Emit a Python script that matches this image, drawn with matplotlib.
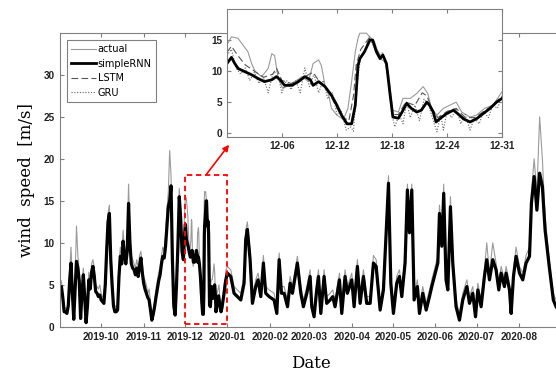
import numpy as np
import pandas as pd
import matplotlib
matplotlib.use('Agg')
import matplotlib.pyplot as plt
import matplotlib.dates as mdates

# ---- main series, Sep 2019 - Nov 2019, one value per day (day 0 = 2019-09-01)
rnn_sepnov = [4.3, 4.8, 3.5, 1.8, 1.8, 1.6, 2.5, 5.5, 7.6, 4.0,
              0.9, 4.5, 7.8, 7.0, 5.5, 1.0, 4.0, 6.2, 3.5, 0.5,
              2.5, 5.6, 4.5, 6.5, 7.2, 6.0, 4.2, 4.0, 3.6, 3.8,
              3.2, 3.0, 2.8, 5.0, 9.0, 12.5, 13.5, 8.0, 5.0, 2.5,
              1.8, 1.8, 2.0, 6.0, 8.4, 7.5, 10.2, 8.5, 7.5, 9.0,
              14.7, 10.0, 7.5, 7.0, 6.8, 6.2, 7.0, 6.0, 7.2, 8.2,
              6.5, 5.2, 4.5, 4.0, 3.5, 3.2, 2.0, 0.8, 1.5, 2.4,
              3.5, 4.5, 5.5, 6.2, 7.5, 8.4, 8.2, 9.6, 12.0, 14.3,
              15.0, 16.8, 8.0, 2.5, 1.4, 5.0, 9.6, 15.5, 13.0, 9.0,
              8.0]
actual_sepnov = [5.0, 5.5, 4.0, 2.4, 2.2, 2.0, 3.0, 6.5, 9.5, 5.0,
                 1.5, 6.0, 12.0, 8.5, 6.5, 2.0, 5.0, 7.0, 4.5, 1.0,
                 3.5, 6.5, 5.5, 7.5, 8.0, 7.0, 5.0, 4.8, 4.5, 5.0,
                 4.0, 3.6, 3.5, 6.0, 10.5, 13.5, 14.5, 9.5, 6.0, 3.0,
                 2.5, 2.4, 2.8, 7.5, 9.5, 8.5, 11.5, 9.5, 8.5, 10.0,
                 17.0, 11.0, 8.5, 8.0, 7.5, 7.0, 8.0, 7.0, 8.5, 9.0,
                 7.5, 6.0, 5.5, 5.0, 4.0, 4.5, 3.0, 1.2, 2.0, 3.0,
                 4.5, 5.5, 6.5, 7.0, 8.5, 9.5, 9.0, 11.0, 14.0, 16.0,
                 21.0, 18.0, 9.0, 3.5, 2.0, 6.0, 11.0, 16.5, 14.0, 10.5,
                 9.0]

# ---- main series, Jan 2020 - Aug 2020 (days since 2019-09-01)
day_janaug = [122.1, 124.6, 127.0, 129.4, 131.9, 134.3, 135.5, 136.7, 138.7, 140.4,
              142.8, 144.5, 146.5, 148.4, 150.1, 152.6, 156.2, 158.2, 159.9, 161.6,
              163.5, 166.0, 167.9, 169.6, 173.2, 175.7, 177.6, 180.1, 182.5, 183.7,
              185.4, 187.3, 188.6, 190.3, 192.7, 194.6, 197.1, 199.0, 200.7, 203.9,
              205.6, 208.0, 209.7, 212.9, 214.6, 217.0, 219.0, 221.4, 223.8, 226.3,
              228.7, 230.7, 233.6, 236.0, 238.0, 239.7, 241.4, 243.3, 245.7, 247.7,
              249.4, 251.8, 253.5, 255.0, 256.7, 258.4, 260.8, 262.3, 264.7, 267.2,
              269.6, 271.3, 273.2, 275.7, 276.9, 278.6, 280.0, 281.7, 283.0, 284.9,
              286.6, 289.0, 291.5, 293.9, 296.9, 298.8, 301.2, 303.2, 304.9, 307.3,
              309.7, 311.4, 313.4, 315.8, 318.2, 320.2, 321.9, 324.3, 325.5, 328.0,
              329.2, 330.9, 332.8, 335.3, 337.7, 340.1, 342.6, 344.0, 346.0, 348.0,
              350.0, 352.0, 354.0, 357.0, 360.0, 362.0, 366.0]
rnn_janaug = [6.4, 6.0, 4.0, 3.6, 3.2, 5.2, 10.4, 11.6, 8.0, 2.8,
              4.8, 5.6, 3.6, 7.6, 4.0, 3.6, 3.2, 1.6, 8.0, 4.0,
              4.0, 2.4, 5.2, 4.0, 7.6, 4.0, 2.4, 4.0, 6.0, 2.4,
              1.2, 4.4, 6.0, 1.6, 6.0, 2.8, 3.2, 3.6, 2.4, 5.6,
              1.6, 6.0, 4.0, 5.6, 2.4, 7.2, 2.8, 6.0, 2.8, 2.8,
              7.6, 7.2, 2.0, 4.4, 11.2, 17.1, 5.2, 1.6, 5.2, 6.0,
              3.6, 7.6, 16.3, 11.2, 16.3, 3.2, 4.8, 1.6, 4.0, 2.0,
              3.6, 4.8, 6.0, 7.6, 13.5, 9.6, 15.9, 5.6, 4.4, 14.3,
              7.6, 2.4, 0.8, 3.2, 4.8, 2.8, 4.0, 1.2, 4.4, 2.4,
              6.0, 8.0, 5.6, 8.0, 6.8, 4.4, 6.4, 4.8, 6.4, 4.4,
              1.6, 6.0, 8.4, 6.4, 5.6, 7.6, 8.4, 14.7, 17.9, 13.9,
              18.3, 16.7, 11.5, 7.2, 3.2, 2.4, 1.5]
actual_janaug = [7.2, 6.8, 4.8, 4.4, 4.0, 6.0, 11.5, 12.5, 9.0, 3.5,
                 5.6, 6.4, 4.4, 8.5, 4.8, 4.4, 4.0, 2.4, 8.8, 4.8,
                 4.8, 3.2, 6.0, 4.8, 8.4, 4.8, 3.2, 4.8, 6.8, 3.2,
                 2.0, 5.2, 6.8, 2.4, 6.8, 3.6, 4.0, 4.4, 3.2, 6.4,
                 2.4, 6.8, 4.8, 6.4, 3.2, 8.0, 3.6, 6.8, 3.6, 3.6,
                 8.5, 8.0, 2.8, 5.2, 12.0, 18.0, 6.0, 2.4, 6.0, 6.8,
                 4.4, 8.5, 17.0, 12.0, 17.0, 4.0, 5.6, 2.4, 4.8, 2.8,
                 4.4, 5.6, 6.8, 8.5, 14.5, 10.5, 17.0, 6.4, 5.2, 15.5,
                 8.5, 3.2, 1.6, 4.0, 5.6, 3.6, 4.8, 2.0, 5.2, 3.2,
                 6.8, 10.0, 6.4, 10.0, 7.6, 5.2, 7.2, 5.6, 7.2, 5.2,
                 2.4, 6.8, 9.5, 7.2, 6.4, 8.5, 9.5, 16.0, 20.0, 16.0,
                 25.0, 20.0, 13.0, 8.0, 4.0, 3.2, 2.2]

# ---- December 2019 detail (days since 2019-12-01)
rnn_day = [0.0, 0.5, 0.87, 1.24, 1.96, 2.7, 3.4, 4.1, 4.9, 5.4,
           5.8, 6.3, 7.1, 7.8, 8.5, 9.1, 9.4, 10.0, 10.7, 11.4,
           12.0, 12.5, 13.1, 13.6, 14.0, 14.3, 14.5, 15.0, 15.6, 15.9,
           16.3, 16.7, 17.0, 17.4, 17.8, 18.1, 18.7, 19.1, 19.6, 20.1,
           20.7, 21.2, 21.8, 22.1, 22.5, 22.8, 23.2, 23.9, 24.7, 25.2,
           25.8, 26.5, 27.2, 27.9, 28.7, 29.4, 30.0]
rnn_dec = [11.2, 12.2, 11.2, 10.4, 9.9, 9.4, 8.8, 8.3, 8.6, 9.1,
           8.6, 7.7, 7.7, 8.3, 9.1, 8.6, 7.7, 8.3, 7.5, 6.1,
           4.5, 2.9, 1.5, 1.5, 4.5, 10.9, 12.0, 13.1, 15.0, 15.0,
           13.1, 12.0, 12.6, 11.2, 6.1, 2.6, 2.4, 3.4, 4.8, 4.0,
           3.4, 3.7, 5.0, 4.5, 3.4, 1.8, 2.3, 3.1, 3.7, 3.1,
           2.3, 1.8, 2.3, 3.1, 4.0, 5.0, 5.6]
actual_day = [0.0, 0.5, 1.2, 2.0, 2.3, 2.7, 3.1, 3.8, 4.5, 4.9,
              5.2, 5.6, 6.1, 7.1, 8.2, 8.9, 9.4, 10.0, 10.3, 10.7,
              11.1, 11.4, 12.0, 12.7, 13.2, 13.6, 14.0, 14.3, 14.5, 15.2,
              15.6, 16.1, 16.7, 17.2, 17.6, 18.1, 18.7, 19.2, 20.0, 20.7,
              21.4, 21.9, 22.3, 22.9, 23.6, 24.3, 25.0, 25.6, 26.5, 27.2,
              28.1, 29.0, 30.0]
actual_dec = [14.2, 15.5, 15.3, 13.7, 13.1, 11.2, 9.9, 9.1, 10.4, 12.8,
              12.5, 8.8, 7.2, 8.0, 9.1, 8.3, 11.2, 11.8, 10.9, 7.7,
              6.1, 4.0, 2.9, 2.2, 4.0, 8.3, 13.1, 15.3, 16.1, 16.1,
              15.5, 14.7, 12.0, 11.5, 9.9, 3.7, 3.4, 5.6, 5.6, 6.4,
              7.5, 6.4, 4.0, 2.9, 4.0, 4.5, 5.0, 3.4, 2.6, 2.9,
              4.0, 4.5, 6.7]
lstm_day = [0.0, 0.5, 1.2, 2.0, 3.0, 4.0, 5.0, 5.4, 6.0, 7.0,
            8.2, 9.0, 9.4, 10.0, 11.0, 12.0, 12.7, 13.3, 13.8, 14.1,
            14.6, 15.5, 16.0, 16.7, 17.2, 17.7, 18.1, 18.7, 19.5, 20.5,
            21.3, 21.8, 22.5, 23.0, 24.0, 25.0, 26.0, 27.0, 28.0, 29.0,
            30.0]
lstm_dec = [13.0, 14.0, 12.5, 11.0, 10.0, 9.0, 9.5, 10.5, 8.5, 8.0,
            8.8, 9.5, 9.8, 8.5, 7.0, 4.0, 2.5, 2.0, 6.0, 11.0,
            13.5, 15.3, 14.5, 12.5, 12.0, 8.0, 3.0, 3.0, 5.0, 4.5,
            6.5, 6.0, 3.5, 2.5, 3.5, 4.0, 2.5, 2.5, 3.5, 4.5,
            6.0]
gru_day = [0.0, 0.5, 1.0, 1.5, 2.0, 2.5, 3.0, 3.5, 4.0, 4.5,
           5.0, 5.5, 6.0, 6.5, 7.0, 7.5, 8.0, 8.5, 9.0, 9.5,
           10.0, 10.5, 11.0, 11.5, 12.0, 12.5, 13.0, 13.5, 13.8, 14.2,
           14.6, 15.0, 15.5, 16.0, 16.5, 17.0, 17.5, 18.0, 18.3, 18.8,
           19.2, 19.6, 20.0, 20.5, 21.0, 21.5, 22.0, 22.5, 22.9, 23.3,
           23.6, 24.0, 24.5, 25.0, 25.5, 26.0, 26.5, 27.0, 27.5, 28.0,
           28.5, 29.0, 29.5, 30.0]
gru_dec = [12.5, 13.5, 10.5, 9.5, 10.5, 8.5, 9.8, 8.0, 9.0, 6.5,
           9.5, 10.0, 6.5, 8.5, 7.0, 8.5, 6.5, 10.5, 7.5, 9.5,
           6.5, 8.5, 5.5, 6.5, 3.0, 3.5, 0.5, 1.0, 0.3, 8.0,
           12.5, 13.0, 15.5, 14.0, 12.5, 13.0, 10.5, 3.0, 1.0, 3.0,
           1.5, 5.0, 2.5, 4.5, 2.0, 5.5, 4.5, 2.0, 0.2, 3.0,
           0.5, 3.5, 2.5, 4.0, 1.5, 3.0, 0.5, 2.5, 1.5, 3.5,
           2.5, 4.5, 4.0, 6.0]

inset_ticks = ['2019-12-07', '2019-12-13', '2019-12-19', '2019-12-25', '2019-12-31']
inset_labels = ['12-06', '12-12', '12-18', '12-24', '12-31']

start = pd.Timestamp('2019-09-01')
dec1 = pd.Timestamp('2019-12-01')

def to_dates(base, days):
	return base + pd.to_timedelta(np.asarray(days, dtype=float), unit='D')

main_days = list(range(len(rnn_sepnov))) + [91 + d for d in rnn_day] + day_janaug
main_rnn = rnn_sepnov + rnn_dec + rnn_janaug
act_days = list(range(len(actual_sepnov))) + [91 + d for d in actual_day] + day_janaug
main_act = actual_sepnov + actual_dec + actual_janaug

edge = '#808080'

def style_ticks(a):
	for lab in a.get_xticklabels() + a.get_yticklabels():
		lab.set_family('Liberation Sans')
		lab.set_fontsize(7.2)
		lab.set_fontweight('bold')
		lab.set_color('#222222')
	for s in a.spines.values():
		s.set_color(edge)
		s.set_linewidth(0.8)

fig = plt.figure(figsize=(5.56, 3.74), dpi=100)
ax = fig.add_axes([0.108, 0.126, 0.902, 0.786])
ax.plot(to_dates(start, act_days), main_act, color='#9a9a9a', lw=0.8)
ax.plot(to_dates(start, main_days), main_rnn, color='black', lw=2.3)
ax.set_xlim(pd.Timestamp('2019-09-01'), pd.Timestamp('2020-09-01'))
ax.set_ylim(0, 35)
ax.set_yticks([0, 5, 10, 15, 20, 25, 30])
ax.set_xticks(pd.date_range('2019-10-01', '2020-08-01', freq='MS'))
ax.xaxis.set_major_formatter(mdates.DateFormatter('%Y-%m'))
ax.tick_params(direction='in', length=3, top=True, right=True, color=edge, pad=4)
style_ticks(ax)
ax.set_ylabel('wind  speed  [m/s]', family='DejaVu Serif', fontsize=12, labelpad=6)
ax.set_xlabel('Date', family='DejaVu Serif', fontsize=12, labelpad=9)

# zoom box and arrow
box_x = mdates.date2num([pd.Timestamp('2019-12-01'), pd.Timestamp('2020-01-01')])
ax.add_patch(plt.Rectangle((box_x[0], 0.3), box_x[1] - box_x[0], 17.8, fill=False,
                           edgecolor='red', ls=(0, (3, 2)), lw=1.3, zorder=5))
ax.annotate('', xy=(0.412, 0.613), xycoords='figure fraction',
            xytext=(pd.Timestamp('2019-12-17'), 18.2), textcoords='data',
            arrowprops=dict(arrowstyle='-|>', color='red', lw=1.2, mutation_scale=9,
                            shrinkA=0, shrinkB=0))

# inset
ins = fig.add_axes([0.408, 0.634, 0.495, 0.342])
h1, = ins.plot(to_dates(dec1, actual_day), actual_dec, color='#9a9a9a', lw=0.8)
h3, = ins.plot(to_dates(dec1, lstm_day), lstm_dec, color='#555555', lw=0.8, ls=(0, (6, 3)))
h4, = ins.plot(to_dates(dec1, gru_day), gru_dec, color='#666666', lw=0.8, ls=(0, (1, 1.5)))
h2, = ins.plot(to_dates(dec1, rnn_day), rnn_dec, color='black', lw=2.0)
ins.set_xlim(pd.Timestamp('2019-12-01'), pd.Timestamp('2019-12-31'))
ins.set_ylim(-0.6, 20)
ins.set_yticks([0, 5, 10, 15])
ins.set_xticks(pd.to_datetime(inset_ticks))
ins.set_xticklabels(inset_labels)
ins.tick_params(direction='in', length=3, top=True, right=True, color=edge, pad=3)
style_ticks(ins)

leg = ax.legend([h1, h2, h3, h4], ['actual', 'simpleRNN', 'LSTM', 'GRU'],
                loc='upper left', bbox_to_anchor=(0.004, 0.992), fontsize=7,
                handlelength=2.5, handletextpad=0.2, borderpad=0.45,
                labelspacing=0.45, fancybox=False, framealpha=1)
leg.get_frame().set_edgecolor(edge)
leg.get_frame().set_linewidth(0.8)

fig.savefig('out.png', dpi=100)
